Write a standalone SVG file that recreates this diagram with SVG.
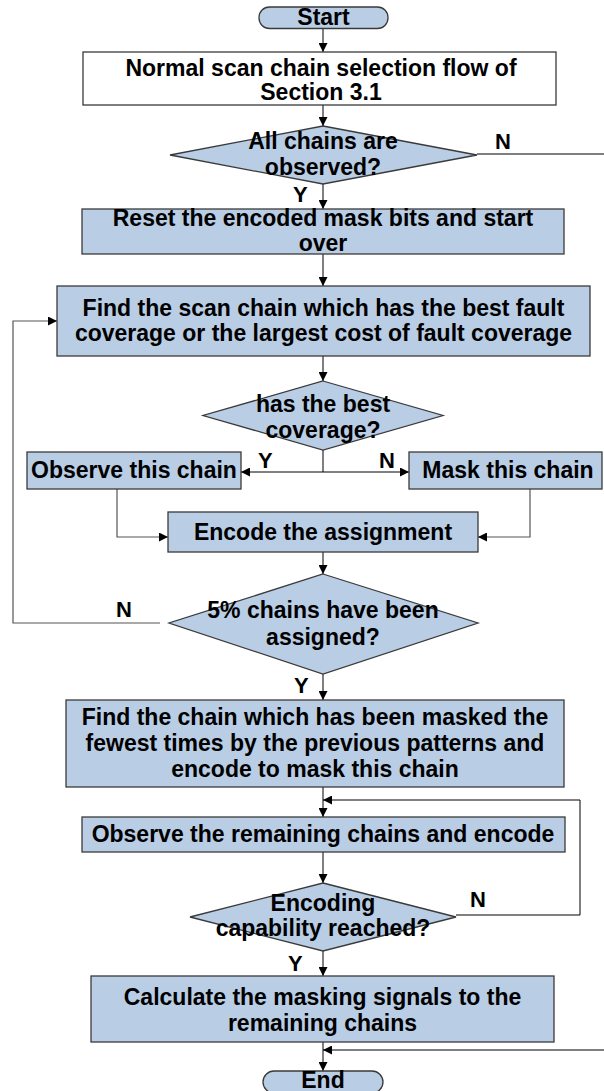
<svg xmlns="http://www.w3.org/2000/svg" width="604" height="1091" viewBox="0 0 604 1091">
<defs>
<marker id="ah" viewBox="0 0 10 10" refX="10" refY="5" markerWidth="9" markerHeight="9" markerUnits="userSpaceOnUse" orient="auto">
<path d="M0,0 L10,5 L0,10 z" fill="#000"/>
</marker>
</defs>
<style>
.n{fill:#B9CDE5;stroke:#3a3a3a;stroke-width:1.3}
.w{fill:#fff;stroke:#3a3a3a;stroke-width:1.3}
.t{font-family:"Liberation Sans",Arial,sans-serif;font-weight:bold;font-size:23px;fill:#000;text-anchor:middle}
.l{font-family:"Liberation Sans",Arial,sans-serif;font-weight:bold;font-size:22px;fill:#000}
.c{fill:none;stroke:#000;stroke-width:1}
.c2{fill:none;stroke:#555;stroke-width:1.2}
.a{marker-end:url(#ah)}
</style>
<rect width="604" height="1091" fill="#fff"/>
<g id="connectors">
<path class="c a" d="M323,29 V52"/>
<path class="c a" d="M323,105 V126"/>
<path class="c" d="M477,154 H604"/>
<path class="c a" d="M323,184 V209"/>
<path class="c a" d="M323,254 V286"/>
<path class="c a" d="M323,356 V381"/>
<path class="c a" d="M323,450 V472 H241"/>
<path class="c a" d="M323,472 H409"/>
<path class="c2 a" d="M117,489 V537 H168"/>
<path class="c2 a" d="M530,489 V537 H478"/>
<path class="c a" d="M323,552 V574"/>
<path class="c2 a" d="M160,623 H13 V321 H57"/>
<path class="c a" d="M323,674 V700"/>
<path class="c a" d="M323,787 V817"/>
<path class="c a" d="M580,915 V800 H323"/>
<path class="c" d="M456,915 H580"/>
<path class="c a" d="M323,852 V883"/>
<path class="c a" d="M323,951 V976"/>
<path class="c a" d="M323,1042 V1071"/>
<path class="c a" d="M604,1050 H323"/>
<text class="l" x="495" y="149">N</text>
<text class="l" x="293" y="202">Y</text>
<text class="l" x="258" y="468">Y</text>
<text class="l" x="379" y="468">N</text>
<text class="l" x="116" y="617">N</text>
<text class="l" x="294" y="693">Y</text>
<text class="l" x="470" y="907">N</text>
<text class="l" x="288" y="971">Y</text>
</g>
<g id="start">
<rect class="n" x="259" y="7" width="129" height="21.5" rx="10.5"/>
<text class="t" x="323.5" y="25">Start</text>
</g>
<g id="normal-flow">
<rect class="w" x="83" y="52" width="473" height="53"/>
<text class="t" x="321" y="76">Normal scan chain selection flow of</text>
<text class="t" x="321" y="100">Section 3.1</text>
</g>
<g id="all-observed">
<polygon class="n" points="323,126 477,155 323,184 170,155"/>
<text class="t" x="323" y="149">All chains are</text>
<text class="t" x="323" y="175">observed?</text>
</g>
<g id="reset">
<rect class="n" x="82" y="209" width="482" height="45"/>
<text class="t" x="323" y="226">Reset the encoded mask bits and start</text>
<text class="t" x="323" y="251">over</text>
</g>
<g id="find-best">
<rect class="n" x="57" y="286" width="533" height="70"/>
<text class="t" x="323.5" y="316">Find the scan chain which has the best fault</text>
<text class="t" x="323.5" y="341">coverage or the largest cost of fault coverage</text>
</g>
<g id="best-coverage">
<polygon class="n" points="323,381 443,415.5 323,450 203,415.5"/>
<text class="t" x="323" y="412">has the best</text>
<text class="t" x="323" y="438">coverage?</text>
</g>
<g id="observe-chain">
<rect class="n" x="27" y="452" width="214" height="37"/>
<text class="t" x="134" y="478">Observe this chain</text>
</g>
<g id="mask-chain">
<rect class="n" x="409" y="452" width="193" height="37"/>
<text class="t" x="508" y="478">Mask this chain</text>
</g>
<g id="encode">
<rect class="n" x="168" y="512" width="310" height="40"/>
<text class="t" x="323" y="540">Encode the assignment</text>
</g>
<g id="five-percent">
<polygon class="n" points="323,574 478,623 323,674 169,623"/>
<text class="t" x="323" y="618">5% chains have been</text>
<text class="t" x="323" y="645">assigned?</text>
</g>
<g id="find-fewest">
<rect class="n" x="66" y="700" width="498" height="87"/>
<text class="t" x="315" y="725">Find the chain which has been masked the</text>
<text class="t" x="315" y="751">fewest times by the previous patterns and</text>
<text class="t" x="315" y="777">encode to mask this chain</text>
</g>
<g id="observe-remaining">
<rect class="n" x="82" y="817" width="483" height="35"/>
<text class="t" x="323" y="842">Observe the remaining chains and encode</text>
</g>
<g id="capability">
<polygon class="n" points="323,883 456,917 323,951 190,917"/>
<text class="t" x="323" y="911">Encoding</text>
<text class="t" x="323" y="936">capability reached?</text>
</g>
<g id="calculate">
<rect class="n" x="91" y="976" width="463" height="66"/>
<text class="t" x="322.5" y="1005">Calculate the masking signals to the</text>
<text class="t" x="322.5" y="1031">remaining chains</text>
</g>
<g id="end">
<rect class="n" x="263" y="1071" width="120" height="22" rx="11"/>
<text class="t" x="323" y="1088">End</text>
</g>
</svg>
